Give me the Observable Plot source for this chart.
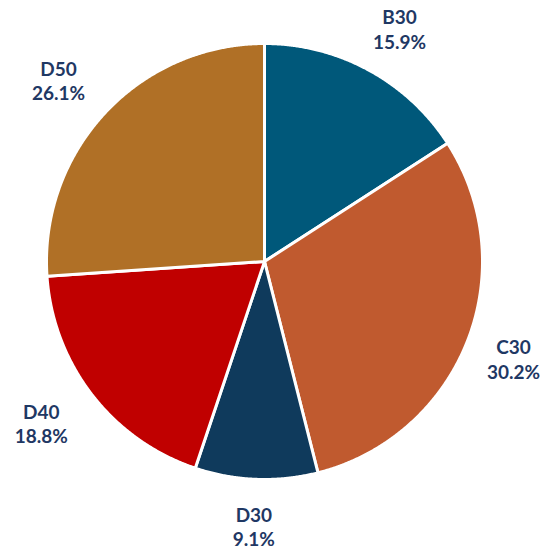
<!DOCTYPE html>
<html>
<head>
<meta charset="utf-8">
<script src="https://cdn.jsdelivr.net/npm/d3@7"></script>
<script src="https://cdn.jsdelivr.net/npm/@observablehq/plot@0.6"></script>
<style>
  html, body { margin: 0; padding: 0; background: #fff; }
</style>
</head>
<body>
<div id="chart"></div>
<script>
const names = ["B30", "C30", "D30", "D40", "D50"];
const shares = [15.9, 30.2, 9.1, 18.8, 26.1];
const labels = ["15.9%", "30.2%", "9.1%", "18.8%", "26.1%"];
const colors = ["#00587A", "#C05A2F", "#0F3A5C", "#C00000", "#B07026"];

const R = 218;               // pie radius in data units
const LRX = 282, LRY = 265;  // label ellipse radii
const XMIN = -264, XMAX = 283, YMIN = -289, YMAX = 261;
const EDGE = 34;             // keep label centres this far from the left/right edges

const arcs = d3.pie().sort(null).value(d => d)(shares);

const pts = [];
arcs.forEach((a, i) => {
  pts.push({name: names[i], x: 0, y: 0});
  const n = Math.max(2, Math.ceil((a.endAngle - a.startAngle) / 0.005));
  for (let k = 0; k <= n; k++) {
    const t = a.startAngle + (a.endAngle - a.startAngle) * k / n;
    pts.push({name: names[i], x: R * Math.sin(t), y: R * Math.cos(t)});
  }
});

const lab = arcs.map((a, i) => {
  const m = (a.startAngle + a.endAngle) / 2;
  const x = Math.max(XMIN + EDGE, Math.min(XMAX - EDGE, LRX * Math.sin(m)));
  return {name: names[i], text: names[i] + "\n" + labels[i], x, y: LRY * Math.cos(m)};
});

const chart = Plot.plot({
  width: 547,
  height: 550,
  margin: 0,
  x: {domain: [XMIN, XMAX], axis: null},
  y: {domain: [YMIN, YMAX], axis: null},
  color: {domain: names, range: colors},
  style: {background: "#fff"},
  marks: [
    Plot.line(pts, {x: "x", y: "y", z: "name", fill: "name", stroke: "white", strokeWidth: 3, strokeLinejoin: "round", curve: "linear-closed"}),
    Plot.text(lab, {x: "x", y: "y", text: "text", fill: "#1F3864", fontSize: 19, fontWeight: "bold", fontFamily: "Lato", lineHeight: 1.28, textAnchor: "middle"})
  ]
});
document.getElementById("chart").appendChild(chart);
</script>
</body>
</html>
